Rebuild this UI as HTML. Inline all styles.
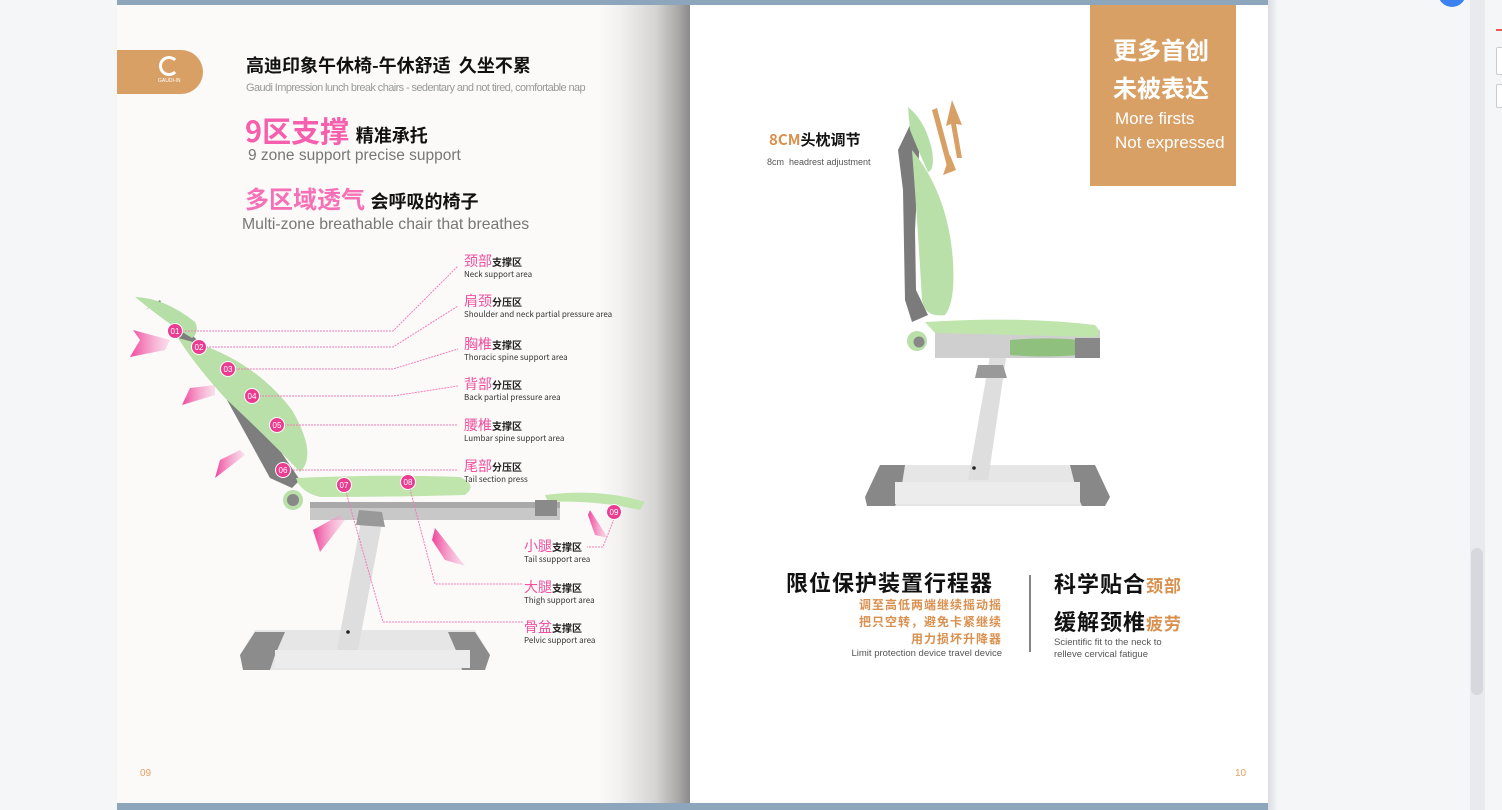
<!DOCTYPE html>
<html><head><meta charset="utf-8"><style>
*{margin:0;padding:0;box-sizing:border-box}
body{width:1502px;height:810px;overflow:hidden;background:#f5f6f8;position:relative;font-family:"Liberation Sans","Noto Sans CJK SC",sans-serif}
.a{position:absolute;white-space:nowrap}
.cj{font-family:"Noto Sans CJK SC",sans-serif}
.lab{position:absolute;white-space:nowrap;line-height:1}
.lab b{font-weight:400;color:#f0509f;font-size:14px}
.lab i{font-style:normal;font-size:10px;color:#222;font-weight:700}
.lab s{display:block;text-decoration:none;font-size:8px;color:#333;margin-top:3px}
</style></head><body>
<div class="a" style="left:117px;top:0;width:573px;height:810px;background:linear-gradient(90deg,#fbfaf9 0,#fbfaf9 84%,#f1f0ef 88%,#d5d4d3 94%,#a9a8a7 98%,#8a8a8a 100%)"></div>
<div class="a" style="left:690px;top:0;width:3px;height:810px;background:#fff"></div>
<div class="a" style="left:693px;top:0;width:575px;height:810px;background:#fff"></div>
<div class="a" style="left:1268px;top:0;width:10px;height:810px;background:linear-gradient(90deg,#dcdde0,#f5f6f8)"></div>
<div class="a" style="left:117px;top:0;width:1151px;height:5px;background:#8ea6bc"></div>
<div class="a" style="left:117px;top:803px;width:1151px;height:7px;background:#8ea6bc"></div>
<div class="a" style="left:1470px;top:0;width:15px;height:810px;background:#e9eaee"></div>
<div class="a" style="left:1471px;top:548px;width:12px;height:147px;background:#d6d8de;border-radius:6px"></div>
<div class="a" style="left:1485px;top:0;width:17px;height:810px;background:#f5f6f8"></div>
<div class="a" style="left:1496px;top:29px;width:6px;height:2px;background:#e55"></div>
<div class="a" style="left:1496px;top:47px;width:8px;height:28px;border:1px solid #ccc;border-radius:2px;background:#fff"></div>
<div class="a" style="left:1496px;top:84px;width:8px;height:24px;border:1px solid #ccc;border-radius:2px;background:#fff"></div>
<div class="a" style="left:1438px;top:-10px;width:28px;height:17px;border-radius:0 0 14px 14px;background:#3b82f0"></div>

<div class="a" style="left:117px;top:50px;width:86px;height:44px;background:#d9a066;border-radius:0 22px 22px 0"></div>
<div class="a" style="left:159px;top:56px;width:20px;height:20px;border:3px solid #fff;border-radius:50%;border-right-color:transparent"></div>
<div class="a" style="left:158px;top:78px;font-size:5px;color:#fff">GAUDI-IN</div>
<div class="a cj" style="left:246px;top:52px;font-size:18px;font-weight:700;color:#111">高迪印象午休椅-午休舒适&nbsp; 久坐不累</div>
<div class="a" style="left:246px;top:82px;font-size:11px;color:#999;letter-spacing:-0.6px">Gaudi Impression lunch break chairs - sedentary and not tired, comfortable nap</div>
<div class="a cj" style="left:245px;top:110px;font-size:29px;font-weight:700;color:#f55fae;line-height:40px">9区支撑 <span style="font-size:18px;color:#111">精准承托</span></div>
<div class="a" style="left:248px;top:147px;font-size:15.5px;color:#777">9 zone support precise support</div>
<div class="a cj" style="left:245px;top:180px;font-size:24px;font-weight:700;color:#f76fb6;line-height:36px">多区域透气 <span style="font-size:18px;color:#111">会呼吸的椅子</span></div>
<div class="a" style="left:242px;top:216px;font-size:15.8px;color:#777">Multi-zone breathable chair that breathes</div>

<svg class="a" style="left:0;top:0" width="1502" height="810">
<defs>
<linearGradient id="ar" x1="0" y1="0" x2="1" y2="0"><stop offset="0" stop-color="#f0449a"/><stop offset="1" stop-color="#f6b6d6" stop-opacity=".4"/></linearGradient>
</defs>
<g>
<polygon points="240,655 255,630 475,630 490,655 485,670 243,670" fill="#e6e6e6"/>
<polygon points="240,655 255,632 285,632 275,655 270,670 243,670" fill="#8c8c8c"/>
<polygon points="490,655 475,632 448,632 458,655 462,670 485,670" fill="#8c8c8c"/>
<rect x="275" y="650" width="195" height="18" fill="#ececec"/>
<polygon points="364,505 385,507 358,650 337,650" fill="#dedede"/>
<circle cx="348" cy="632" r="1.8" fill="#222"/>
<rect x="310" y="502" width="250" height="18" fill="#c8c8c8"/>
<rect x="310" y="502" width="250" height="6" fill="#a9a9a9"/>
<polygon points="145,310 160,300 175,335 215,370 230,382 236,376 195,338 160,302" fill="#7d7d7d"/>
<polygon points="228,395 240,390 285,458 300,480 292,488 270,478 227,400" fill="#7e7e7e"/>
<path d="M135,297 Q165,298 195,322 Q200,332 192,338 Q170,325 145,305Z" fill="#b6dfa8"/>
<path d="M178,338 Q250,355 292,410 Q318,455 300,472 Q275,445 225,398 Q195,365 178,338Z" fill="#b8e0a8"/>
<path d="M296,478 Q390,474 460,477 Q478,485 465,495 Q400,497 320,497 Q300,492 296,478Z" fill="#bfe5ac"/>
<circle cx="293" cy="500" r="10" fill="#b8e0a8"/><circle cx="293" cy="500" r="6" fill="#888"/>
<path d="M545,495 Q600,488 645,502 L640,510 Q595,500 548,502Z" fill="#bfe5ac"/>
<rect x="535" y="500" width="22" height="16" fill="#8a8a8a"/>
<polygon points="359,510 382,512 385,527 356,525" fill="#999"/>
<path d="M165,350 L130,357 L140,340 L133,330 L170,340Z" fill="url(#ar)"/>
<path d="M215,395 L182,405 L190,388 L215,385Z" fill="url(#ar)"/>
<path d="M245,455 L215,478 L220,460 L240,450Z" fill="url(#ar)"/>
<path d="M345,520 L320,552 L313,530 L340,515Z" fill="url(#ar)"/>
<path d="M435,528 L465,566 L445,560 L432,540Z" fill="url(#ar)"/>
<path d="M590,510 L608,538 L595,535 L588,515Z" fill="url(#ar)"/>
<g fill="none" stroke="#f57bb9" stroke-width="1" stroke-dasharray="2,1">
<polyline points="182,331 393,331 458,266"/>
<polyline points="206,347 393,347 458,306"/>
<polyline points="235,369 393,369 458,349"/>
<polyline points="259,396 393,396 458,386"/>
<polyline points="284,425 458,425"/>
<polyline points="290,470 458,470"/>
<polyline points="346,492 383,622 523,622"/>
<polyline points="410,489 435,584 523,584"/>
<polyline points="614,519 603,547 587,547"/>
</g>
<g fill="#ea3d92" stroke="#fff" stroke-width="1">
<circle cx="175" cy="331" r="7.5"/><circle cx="199" cy="347" r="7.5"/><circle cx="228" cy="369" r="7.5"/>
<circle cx="252" cy="396" r="7.5"/><circle cx="277" cy="425" r="7.5"/><circle cx="283" cy="470" r="7.5"/>
<circle cx="344" cy="485" r="7.5"/><circle cx="408" cy="482" r="7.5"/><circle cx="614" cy="512" r="7.5"/>
</g>
<g fill="#fff" font-size="8" font-family="Liberation Sans" text-anchor="middle">
<text x="175" y="334">01</text><text x="199" y="350">02</text><text x="228" y="372">03</text>
<text x="252" y="399">04</text><text x="277" y="428">05</text><text x="283" y="473">06</text>
<text x="344" y="488">07</text><text x="408" y="485">08</text><text x="614" y="515">09</text>
</g>
</g>
<!-- RIGHT CHAIR -->
<g>
<polygon points="865,497 880,465 1095,465 1110,497 1105,506 867,506" fill="#e6e6e6"/>
<polygon points="865,497 880,465 905,465 900,497 895,506 867,506" fill="#888"/>
<polygon points="1110,497 1095,465 1070,465 1078,497 1082,506 1105,506" fill="#888"/>
<rect x="895" y="482" width="185" height="22" fill="#ececec"/>
<polygon points="992,345 1008,345 988,480 968,480" fill="#dedede"/>
<circle cx="974" cy="468" r="1.8" fill="#222"/>
<polygon points="978,365 1003,365 1007,378 975,378" fill="#999"/>
<rect x="935" y="330" width="165" height="28" fill="#cfcfcf"/>
<polygon points="898,150 910,125 920,135 915,230 916,290 928,315 912,322 905,300 903,190" fill="#7b7b7b"/>
<path d="M908,107 Q925,120 932,150 Q935,170 928,172 Q918,150 910,130Z" fill="#b6dfa8"/>
<path d="M912,150 Q945,190 952,250 Q957,300 945,315 Q925,318 922,300 Q918,230 912,150Z" fill="#b8e0a8"/>
<path d="M925,322 Q1020,316 1095,325 Q1103,333 1095,337 Q1020,335 935,333Z" fill="#bfe5ac"/>
<path d="M1010,340 Q1060,336 1092,342 L1080,355 Q1040,358 1010,355Z" fill="#8fc07e"/>
<rect x="1075" y="338" width="25" height="20" fill="#888"/>
<circle cx="917" cy="341" r="10" fill="#b8e0a8"/><circle cx="919" cy="342" r="5.5" fill="#888"/>
<polygon points="937,108 953,168 948,170 932,110" fill="#d9a066"/>
<polygon points="952,100 962,125 956,124 962,158 957,158 951,124 946,126" fill="#d9a066"/>
<polygon points="943,175 950,155 956,170" fill="#d9a066"/>
</g>
<line x1="1030" y1="575" x2="1030" y2="652" stroke="#333" stroke-width="1.2"/>
</svg>

<div class="lab cj" style="left:464px;top:251px"><b>颈部</b><i>支撑区</i><s>Neck support area</s></div>
<div class="lab cj" style="left:464px;top:291px"><b>肩颈</b><i>分压区</i><s>Shoulder and neck partial pressure area</s></div>
<div class="lab cj" style="left:464px;top:334px"><b>胸椎</b><i>支撑区</i><s>Thoracic spine support area</s></div>
<div class="lab cj" style="left:464px;top:374px"><b>背部</b><i>分压区</i><s>Back partial pressure area</s></div>
<div class="lab cj" style="left:464px;top:415px"><b>腰椎</b><i>支撑区</i><s>Lumbar spine support area</s></div>
<div class="lab cj" style="left:464px;top:456px"><b>尾部</b><i>分压区</i><s>Tail section press</s></div>
<div class="lab cj" style="left:524px;top:536px"><b>小腿</b><i>支撑区</i><s>Tail ssupport area</s></div>
<div class="lab cj" style="left:524px;top:577px"><b>大腿</b><i>支撑区</i><s>Thigh support area</s></div>
<div class="lab cj" style="left:524px;top:617px"><b>骨盆</b><i>支撑区</i><s>Pelvic support area</s></div>
<div class="a" style="left:140px;top:768px;font-size:10px;color:#e8a060">09</div>

<div class="a" style="left:1090px;top:5px;width:146px;height:181px;background:#d9a066"></div>
<div class="a cj" style="left:1113px;top:30px;font-size:24px;font-weight:700;color:#fff;line-height:38px">更多首创<br>未被表达</div>
<div class="a" style="left:1115px;top:107px;font-size:17px;color:#fff;line-height:24px">More firsts<br>Not expressed</div>
<div class="a cj" style="left:769px;top:129px;font-size:15px;font-weight:700;color:#111"><span style="color:#d9904e">8CM</span>头枕调节</div>
<div class="a" style="left:767px;top:157px;font-size:9px;color:#555">8cm&nbsp; headrest adjustment</div>
<div class="a cj" style="left:786px;top:566px;font-size:22px;font-weight:700;color:#111;letter-spacing:1px">限位保护装置行程器</div>
<div class="a cj" style="left:800px;top:596px;width:202px;text-align:right;font-size:12px;font-weight:700;color:#d9904e;line-height:17px;letter-spacing:1px">调至高低两端继续摇动摇<br>把只空转，避免卡紧继续<br>用力损坏升降器</div>
<div class="a" style="left:802px;top:648px;width:200px;text-align:right;font-size:9.5px;color:#555">Limit protection device travel device</div>
<div class="a cj" style="left:1054px;top:565px;font-size:22px;font-weight:700;color:#111;line-height:36px;letter-spacing:1px">科学贴合<span style="font-size:17px;color:#d9904e">颈部</span><br>缓解颈椎<span style="font-size:17px;color:#d9904e">疲劳</span></div>
<div class="a" style="left:1054px;top:637px;font-size:9.5px;color:#555;line-height:12px">Scientific fit to the neck to<br>relleve cervical fatigue</div>
<div class="a" style="left:1235px;top:768px;font-size:10px;color:#e8a060">10</div>
</body></html>
